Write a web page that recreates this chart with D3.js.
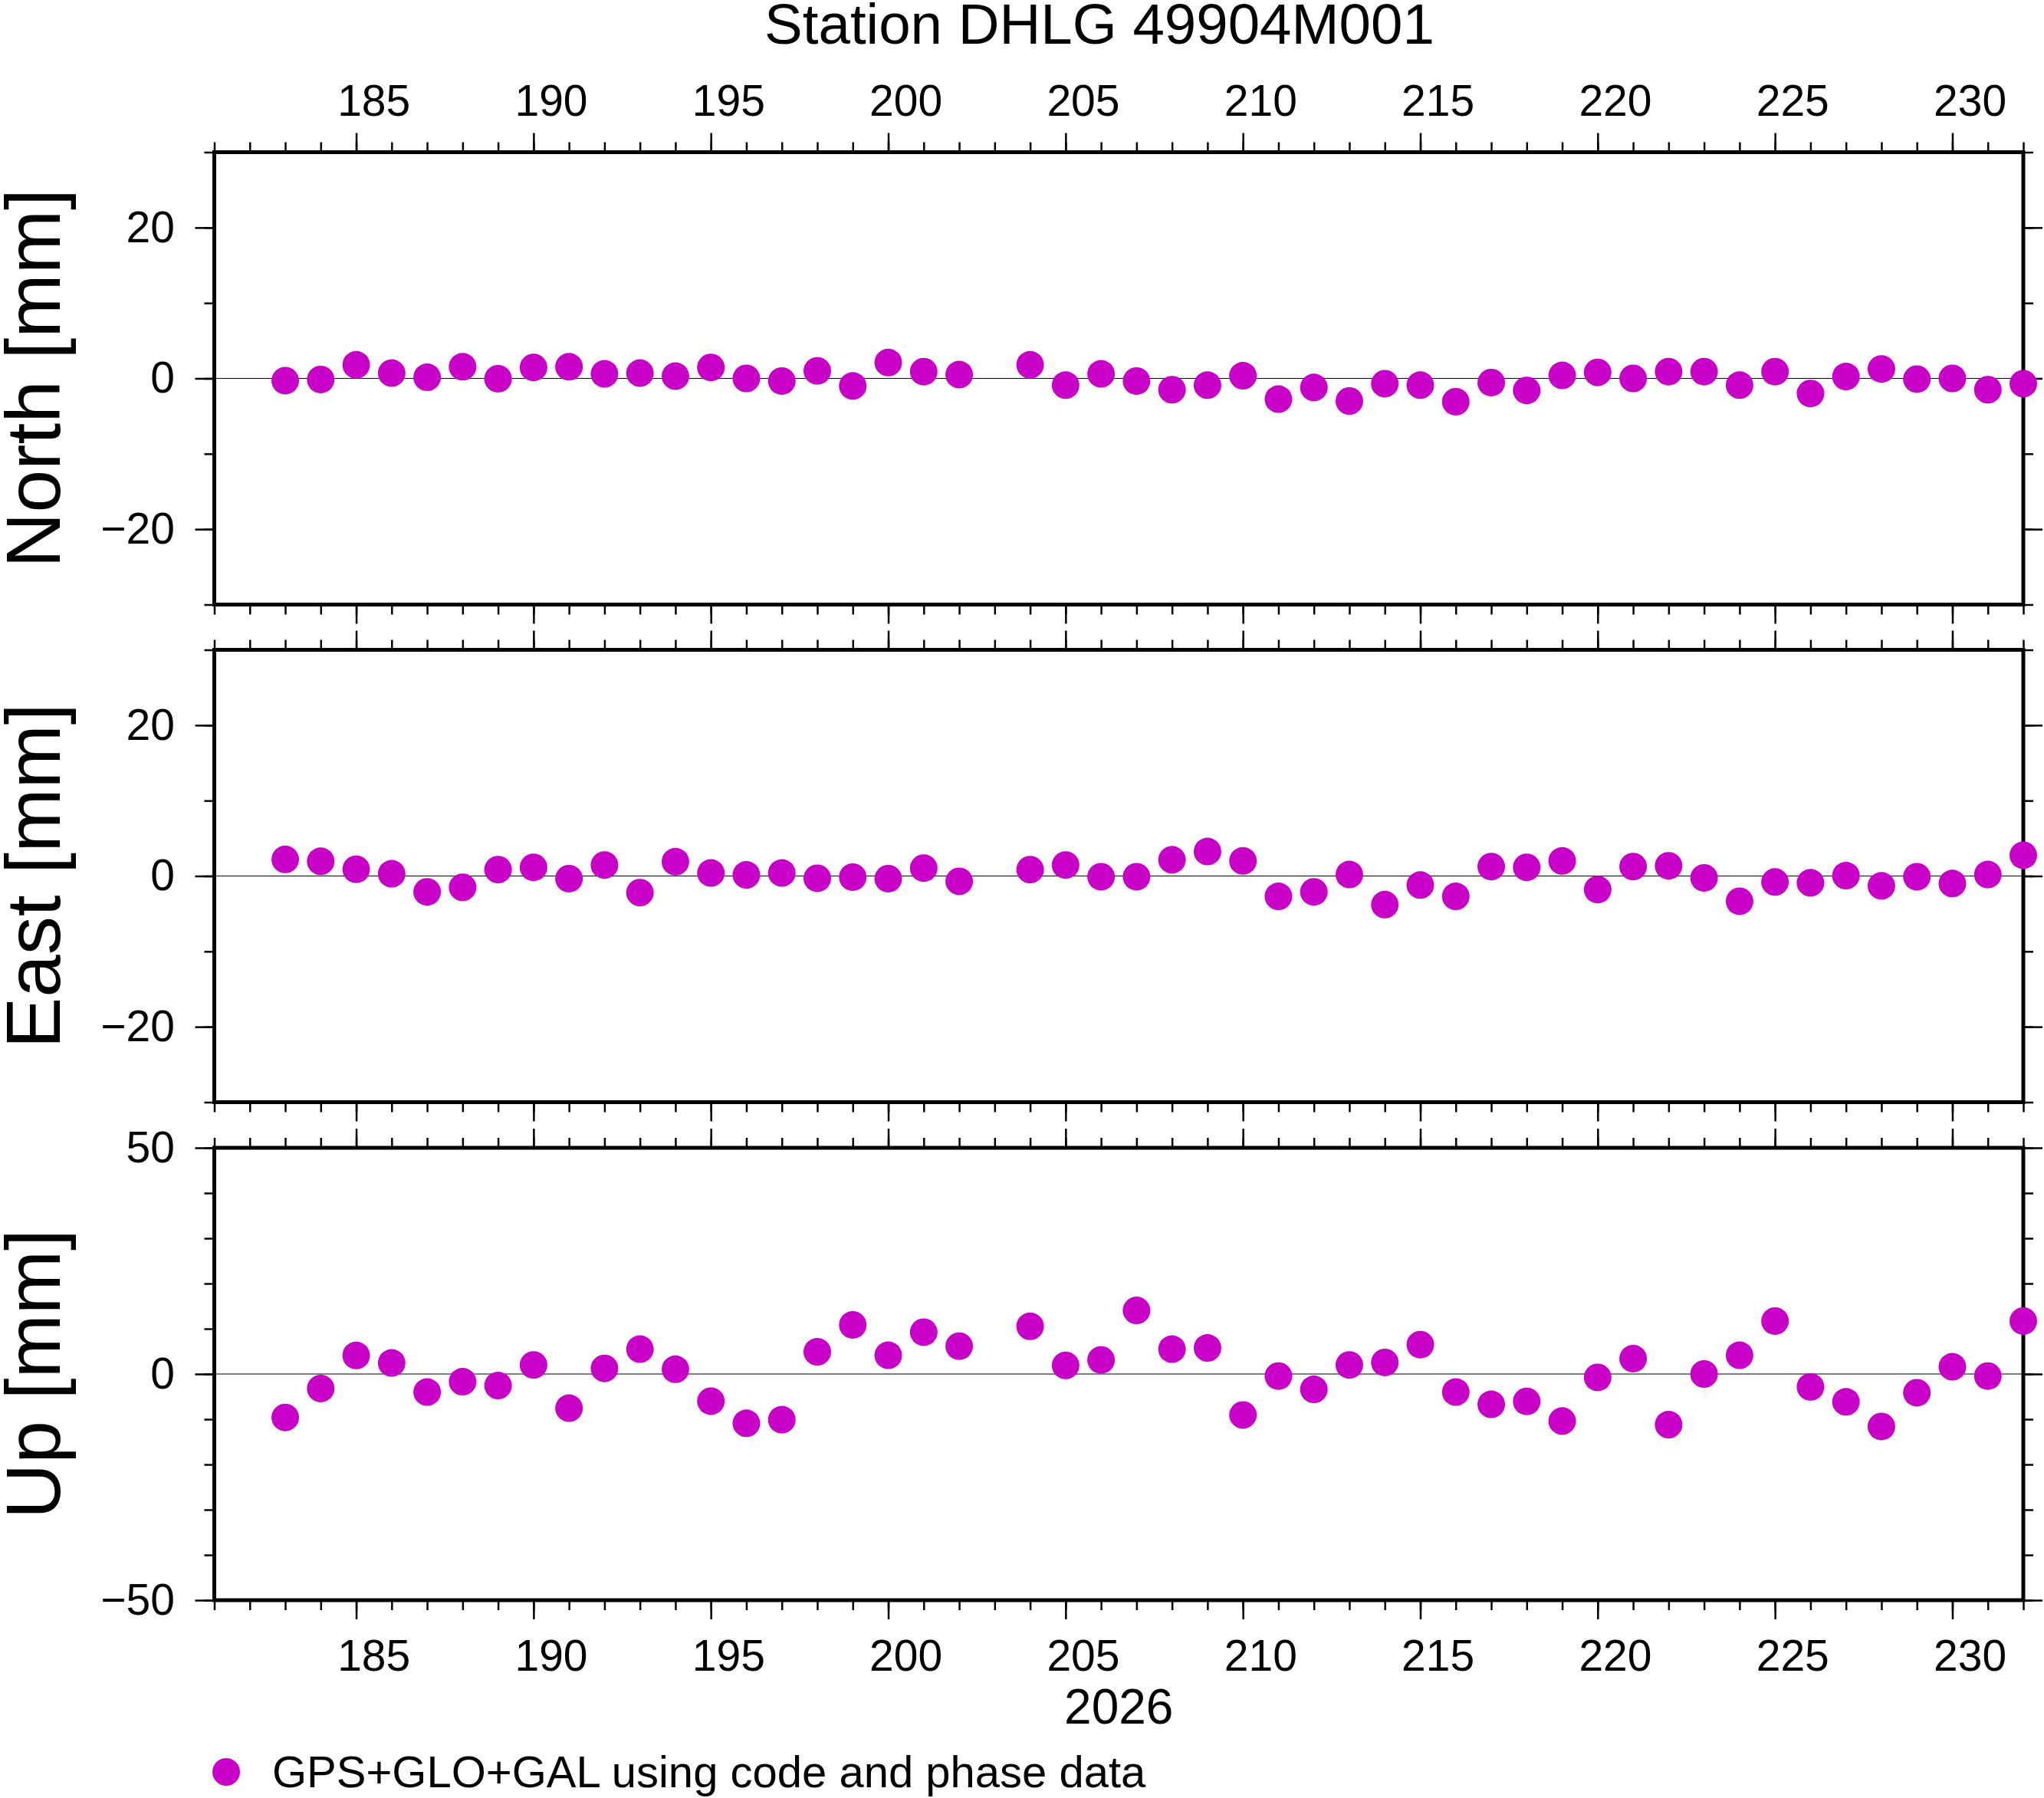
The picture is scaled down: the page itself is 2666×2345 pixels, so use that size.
<!DOCTYPE html>
<html>
<head>
<meta charset="utf-8">
<script src="https://cdn.jsdelivr.net/npm/d3@7"></script>
<style>
  body { margin: 0; background: #fff; }
  text { font-family: "Liberation Sans", Helvetica, Arial, sans-serif; fill: #000; }
</style>
</head>
<body>
<div id="chart-area"></div>
<script>

// Data: day of year 2026 and daily position residuals in mm (day 203 missing)
var days = [183,184,185,186,187,188,189,190,191,192,193,194,195,196,197,198,199,200,201,202,
            204,205,206,207,208,209,210,211,212,213,214,215,216,217,218,219,220,221,222,223,
            224,225,226,227,228,229,230,231,232];

var north = [-0.3,-0.15,1.8,0.7,0.15,1.55,-0.05,1.45,1.55,0.6,0.7,0.3,1.45,0.0,-0.35,1.0,-1.0,2.1,0.9,0.5,
             1.8,-0.9,0.6,-0.35,-1.5,-0.9,0.35,-2.75,-1.2,-3.0,-0.7,-0.9,-3.1,-0.55,-1.6,0.4,0.8,0.0,0.9,0.9,
             -0.9,0.9,-2.0,0.25,1.25,-0.1,0.0,-1.5,-0.7];

var east = [2.2,1.95,0.9,0.3,-2.1,-1.5,0.85,1.15,-0.35,1.45,-2.2,1.9,0.4,0.15,0.4,-0.3,-0.15,-0.35,1.05,-0.7,
            0.85,1.45,-0.1,-0.1,2.15,3.25,2.0,-2.7,-2.1,0.2,-3.8,-1.2,-2.7,1.25,1.15,2.0,-1.8,1.25,1.35,-0.25,
            -3.35,-0.8,-0.9,0.05,-1.3,-0.1,-1.0,0.2,2.75];

var up = [-9.6,-3.2,4.1,2.45,-4.0,-1.7,-2.55,2.0,-7.55,1.25,5.5,1.05,-6.0,-10.9,-10.1,4.9,10.85,4.15,9.25,6.15,
          10.55,1.9,3.1,14.05,5.5,5.75,-9.05,-0.45,-3.4,2.0,2.55,6.5,-4.0,-6.7,-6.05,-10.4,-0.75,3.4,-11.2,0.0,
          4.15,11.7,-2.85,-6.15,-11.6,-4.15,1.6,-0.45,11.7];

var panelNames = ["North [mm]", "East [mm]", "Up [mm]"];
var xMajorTicks = [185,190,195,200,205,210,215,220,225,230];
var neTicks = [-20,0,20];
var upTicks = [-50,0,50];

var title = "Station DHLG 49904M001";
var yearLabel = "2026";
var legendLabel = "GPS+GLO+GAL using code and phase data";

var dotColor = "#c800c8";

var W = 2666, H = 2345;
var left = 279.5, right = 2639;
var panelH = 590;
var panelTops = [198.5, 847.5, 1497];

var svg = d3.select("#chart-area").append("svg")
    .attr("width", W)
    .attr("height", H);

var x = d3.scaleLinear().domain([181, 232]).range([left, right]);

var fmt = function(d) { return d < 0 ? "\u2212" + Math.abs(d) : String(d); };

var panels = [
  { name: panelNames[0], values: north, domain: [-30, 30], major: neTicks, minor: d3.range(-30, 31, 10) },
  { name: panelNames[1], values: east,  domain: [-30, 30], major: neTicks, minor: d3.range(-30, 31, 10) },
  { name: panelNames[2], values: up,    domain: [-50, 50], major: upTicks, minor: d3.range(-50, 51, 10) }
];

var xMinor = d3.range(181, 233, 1);

function styleAxis(g) {
  g.select(".domain").remove();
  g.selectAll(".tick line").attr("stroke", "#000").attr("stroke-width", 2.5);
}

panels.forEach(function(p, i) {
  var top = panelTops[i];
  var y = d3.scaleLinear().domain(p.domain).range([top + panelH, top]);
  var g = svg.append("g");

  // x ticks on top and bottom of each panel
  g.append("g").attr("transform", `translate(0,${top})`)
    .call(d3.axisTop(x).tickValues(xMinor).tickSize(13).tickFormat(""))
    .call(styleAxis);
  g.append("g").attr("transform", `translate(0,${top})`)
    .call(d3.axisTop(x).tickValues(xMajorTicks).tickSize(25).tickFormat(""))
    .call(styleAxis);
  g.append("g").attr("transform", `translate(0,${top + panelH})`)
    .call(d3.axisBottom(x).tickValues(xMinor).tickSize(13).tickFormat(""))
    .call(styleAxis);
  g.append("g").attr("transform", `translate(0,${top + panelH})`)
    .call(d3.axisBottom(x).tickValues(xMajorTicks).tickSize(25).tickFormat(""))
    .call(styleAxis);

  // y ticks left (labelled) and right
  g.append("g").attr("transform", `translate(${left},0)`)
    .call(d3.axisLeft(y).tickValues(p.minor).tickSize(13).tickFormat(""))
    .call(styleAxis);
  g.append("g").attr("transform", `translate(${left},0)`)
    .call(d3.axisLeft(y).tickValues(p.major).tickSize(25).tickPadding(26.5).tickFormat(fmt))
    .call(styleAxis)
    .call(function(a) {
      a.selectAll("text").attr("font-size", 57).attr("font-family", null).attr("fill", "#000");
    });
  g.append("g").attr("transform", `translate(${right},0)`)
    .call(d3.axisRight(y).tickValues(p.minor).tickSize(13).tickFormat(""))
    .call(styleAxis);
  g.append("g").attr("transform", `translate(${right},0)`)
    .call(d3.axisRight(y).tickValues(p.major).tickSize(25).tickFormat(""))
    .call(styleAxis);

  // zero line
  g.append("line")
    .attr("x1", left).attr("x2", right)
    .attr("y1", y(0)).attr("y2", y(0))
    .attr("stroke", "#000").attr("stroke-width", 1.2);

  // frame
  g.append("rect")
    .attr("x", left).attr("y", top)
    .attr("width", right - left).attr("height", panelH)
    .attr("fill", "none").attr("stroke", "#000").attr("stroke-width", 5);

  // points
  g.selectAll("circle.pt").data(days)
    .enter().append("circle")
    .attr("class", "pt")
    .attr("cx", d => x(d))
    .attr("cy", (d, k) => y(p.values[k]))
    .attr("r", 18)
    .attr("fill", dotColor);

  // axis label
  g.append("text")
    .attr("transform", `translate(78,${top + panelH / 2}) rotate(-90)`)
    .attr("text-anchor", "middle")
    .attr("font-size", 100)
    .text(p.name);
});

// day labels, centred on the day interval (top of first panel, bottom of last)
svg.append("g").selectAll("text").data(xMajorTicks)
  .enter().append("text")
  .attr("x", d => x(d + 0.5))
  .attr("y", 150.5)
  .attr("text-anchor", "middle")
  .attr("font-size", 57)
  .text(d => d);

svg.append("g").selectAll("text").data(xMajorTicks)
  .enter().append("text")
  .attr("x", d => x(d + 0.5))
  .attr("y", 2179)
  .attr("text-anchor", "middle")
  .attr("font-size", 57)
  .text(d => d);

svg.append("text")
  .attr("x", (left + right) / 2)
  .attr("y", 2248)
  .attr("text-anchor", "middle")
  .attr("font-size", 64)
  .text(yearLabel);

svg.append("text")
  .attr("x", 1434)
  .attr("y", 57)
  .attr("text-anchor", "middle")
  .attr("font-size", 74.5)
  .text(title);

// legend
svg.append("circle")
  .attr("cx", 295).attr("cy", 2311).attr("r", 18)
  .attr("fill", dotColor);
svg.append("text")
  .attr("x", 355).attr("y", 2331)
  .attr("font-size", 58)
  .text(legendLabel);

</script>
</body>
</html>
